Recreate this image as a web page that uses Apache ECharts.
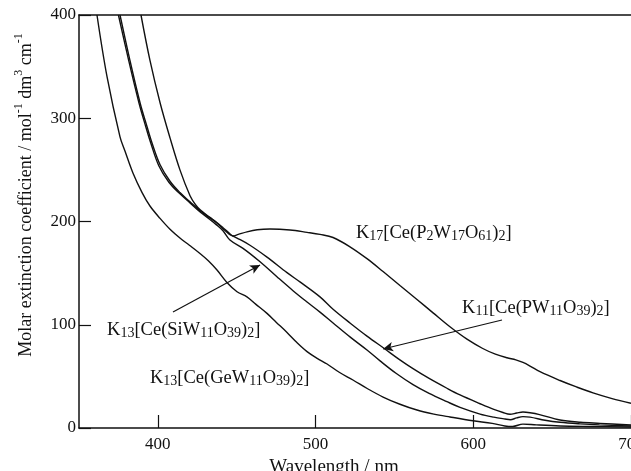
<!DOCTYPE html>
<html>
<head>
<meta charset="utf-8">
<script src="https://cdn.jsdelivr.net/npm/echarts@6/dist/echarts.min.js"></script>
<style>
html,body{margin:0;padding:0;background:#fff;}
#chart{width:631px;height:471px;}
</style>
</head>
<body>
<div id="chart"></div>
<script>
// ---- data ----
const xTickValues = [400, 500, 600, 700];
const yTickValues = [0, 100, 200, 300, 400];

// K17[Ce(P2W17O61)2]
const p2w17_nm  = [389.3, 395, 401.4, 407.7, 414, 420.4, 424, 427, 433, 437, 441.3, 445, 447.5, 451, 456.5, 463, 471.1, 483.8, 494.6, 502.8, 511.1, 521.8, 532.6, 542.8, 553.5, 564.3, 574.5, 585.2, 596, 606, 614, 621.4, 627, 631.5, 636, 642.3, 655, 665, 675.9, 688, 700];
const p2w17_val = [400, 356, 315, 281, 250, 225, 216, 211, 204, 199.5, 194, 189, 186, 187.5, 190, 192, 192.7, 191.8, 189.5, 187.5, 184.5, 175.5, 164, 151.5, 138, 124.5, 111.5, 98, 86, 77, 71.5, 68, 66, 63.5, 60, 54.5, 46, 40, 34, 28.5, 24];

// K11[Ce(PW11O39)2]
const pw11_nm  = [376, 382.3, 388.7, 393.1, 396.3, 401.4, 407.7, 414, 420.4, 427, 433, 437, 441.3, 445, 447.5, 450.2, 458.4, 469.2, 481.9, 490.1, 502.8, 511.1, 522, 532.6, 544, 553, 561.8, 572, 583.3, 591.6, 604.3, 613, 618.8, 623.3, 627.5, 631.5, 636, 642, 655, 668, 680.4, 700];
const pw11_val = [400, 356, 315, 292, 276, 255, 239, 228, 219, 210, 203.5, 199, 193, 188, 186, 184, 177, 165.5, 150.5, 141.5, 127, 115, 101.5, 89, 76.5, 66.5, 57.5, 48, 38.5, 32, 23.5, 18, 15, 13.3, 14.5, 15.5, 14.8, 13, 7.7, 5.5, 4.5, 2.9];

// K13[Ce(SiW11O39)2]
const siw11_nm  = [375, 381.5, 388, 392.3, 395.5, 400.6, 407, 413.5, 420.4, 427, 433, 437, 441.3, 445.7, 454, 464.8, 475.5, 485.7, 494.6, 503, 511.1, 522, 532.6, 540.9, 551, 561.8, 572, 583.3, 591.6, 604.3, 613, 620.1, 623.5, 627.5, 631.5, 636, 645.5, 655, 667.7, 680, 700];
const siw11_val = [400, 356, 315, 292, 276, 254, 238, 227.5, 218, 209, 202, 197, 191, 182, 174, 161, 146.5, 133, 122, 112, 101.7, 88, 75.5, 65, 53, 42, 33.5, 25.5, 20, 13.5, 10.5, 8.7, 8, 9.8, 11, 10.5, 7.5, 5.5, 4, 3, 2];

// K13[Ce(GeW11O39)2]
const gew11_nm  = [361.4, 367.8, 376, 379.2, 384.2, 390, 395, 401.4, 407.7, 414, 420, 426.7, 432, 437.5, 443.8, 450.2, 456.5, 462, 469.2, 475, 481.9, 488, 494.6, 501, 507.3, 515, 523.7, 533, 542.8, 553.5, 564.3, 575, 585.2, 599.8, 612, 620, 625, 631.5, 640, 655, 675, 700];
const gew11_val = [400, 340, 282, 268, 247, 228, 215, 203, 192.5, 184, 177, 169, 162, 153, 141, 132, 127, 120, 111, 102.5, 92.5, 83, 74, 67.5, 62, 54, 46.5, 38, 30, 23, 17.4, 13.5, 10.7, 7, 4.5, 2, 1.5, 3.8, 3, 2, 1.5, 1];

// annotation anchors (data space)
const labelP2W17 = [525.6, 188.9];
const labelPW11  = [592.9, 116.2];
const labelSiW11 = [367.8, 94.9];
const labelGeW11 = [395, 48.4];
const arrowPW11  = [[618.2, 104.6], [542.8, 76.5]];
const arrowSiW11 = [[409.6, 112.3], [464.8, 157.9]];

// ---- chart ----
const FONT = '"Liberation Serif", "DejaVu Serif", serif';
const INK = '#111';
const pairs = (xs, ys) => xs.map((x, i) => [x, ys[i]]);

const rich = {
  n: {fontFamily: FONT, fontSize: 18.5, color: INK, verticalAlign: 'bottom', lineHeight: 20},
  s: {fontFamily: FONT, fontSize: 14, color: INK, verticalAlign: 'bottom', lineHeight: 15}
};
function formula(parts) {
  return parts.map((p, i) => (i % 2 === 0 ? '{n|' + p + '}' : '{s|' + p + '}')).join('');
}
function textMark(coord, text) {
  return {
    coord: coord,
    symbol: 'circle',
    symbolSize: 0,
    label: {show: true, position: 'right', distance: 0, formatter: text, rich: rich}
  };
}
function arrowLine(a) {
  return [{coord: a[0]}, {coord: a[1]}];
}

const lineSeries = (name, data, extra) => Object.assign({
  name: name,
  type: 'line',
  data: data,
  showSymbol: false,
  symbol: 'none',
  smooth: 0.35,
  lineStyle: {color: INK, width: 1.4},
  silent: true,
  animation: false,
  z: 3
}, extra || {});

const chart = echarts.init(document.getElementById('chart'), null, {renderer: 'canvas'});
chart.setOption({
  backgroundColor: '#fff',
  animation: false,
  grid: {left: 79, right: 0, top: 15, bottom: 43, outerBoundsMode: 'none'},
  xAxis: [{
    type: 'value',
    min: 350, max: 700,
    position: 'bottom',
    axisLine: {show: true, onZero: false, lineStyle: {color: INK, width: 1.5}},
    axisTick: {show: true, inside: true, length: 13, customValues: xTickValues, lineStyle: {color: INK, width: 1.2}},
    axisLabel: {show: true, customValues: xTickValues, margin: 8, fontFamily: FONT, fontSize: 17, color: INK},
    splitLine: {show: false},
    name: 'Wavelength / nm',
    nameLocation: 'middle',
    nameGap: 24,
    nameTextStyle: {fontFamily: FONT, fontSize: 19, color: INK, padding: [0, 42, 0, 0]}
  }, {
    type: 'value',
    min: 350, max: 700,
    position: 'top',
    axisLine: {show: true, onZero: false, lineStyle: {color: INK, width: 1.5}},
    axisTick: {show: false},
    axisLabel: {show: false},
    splitLine: {show: false}
  }],
  yAxis: {
    type: 'value',
    min: 0, max: 400, interval: 100,
    axisLine: {show: true, onZero: false, lineStyle: {color: INK, width: 1.5}},
    axisTick: {show: true, inside: true, length: 12, lineStyle: {color: INK, width: 1.2}},
    axisLabel: {show: true, margin: 3, fontFamily: FONT, fontSize: 17, color: INK},
    splitLine: {show: false},
    name: '{a|Molar extinction coefficient / mol}{p|-1}{a| dm}{p|3}{a| cm}{p|-1}',
    nameLocation: 'middle',
    nameGap: 44,
    nameTextStyle: {
      padding: [0, 0, 0, 53],
      rich: {
        a: {fontFamily: FONT, fontSize: 18, color: INK, verticalAlign: 'bottom', lineHeight: 22},
        p: {fontFamily: FONT, fontSize: 12, color: INK, verticalAlign: 'top', lineHeight: 12}
      }
    }
  },
  series: [
    lineSeries('K17[Ce(P2W17O61)2]', pairs(p2w17_nm, p2w17_val), {
      markPoint: {silent: true, animation: false, data: [
        textMark(labelP2W17, formula(['K', '17', '[Ce(P', '2', 'W', '17', 'O', '61', ')', '2', ']']))
      ]}
    }),
    lineSeries('K11[Ce(PW11O39)2]', pairs(pw11_nm, pw11_val), {
      markPoint: {silent: true, animation: false, data: [
        textMark(labelPW11, formula(['K', '11', '[Ce(PW', '11', 'O', '39', ')', '2', ']']))
      ]},
      markLine: {silent: true, animation: false, symbol: ['none', 'arrow'], symbolSize: [7, 10],
        lineStyle: {color: INK, width: 1.2, type: 'solid'}, label: {show: false},
        data: [arrowLine(arrowPW11)]}
    }),
    lineSeries('K13[Ce(SiW11O39)2]', pairs(siw11_nm, siw11_val), {
      markPoint: {silent: true, animation: false, data: [
        textMark(labelSiW11, formula(['K', '13', '[Ce(SiW', '11', 'O', '39', ')', '2', ']']))
      ]},
      markLine: {silent: true, animation: false, symbol: ['none', 'arrow'], symbolSize: [7, 10],
        lineStyle: {color: INK, width: 1.2, type: 'solid'}, label: {show: false},
        data: [arrowLine(arrowSiW11)]}
    }),
    lineSeries('K13[Ce(GeW11O39)2]', pairs(gew11_nm, gew11_val), {
      markPoint: {silent: true, animation: false, data: [
        textMark(labelGeW11, formula(['K', '13', '[Ce(GeW', '11', 'O', '39', ')', '2', ']']))
      ]}
    })
  ]
});
</script>
</body>
</html>
